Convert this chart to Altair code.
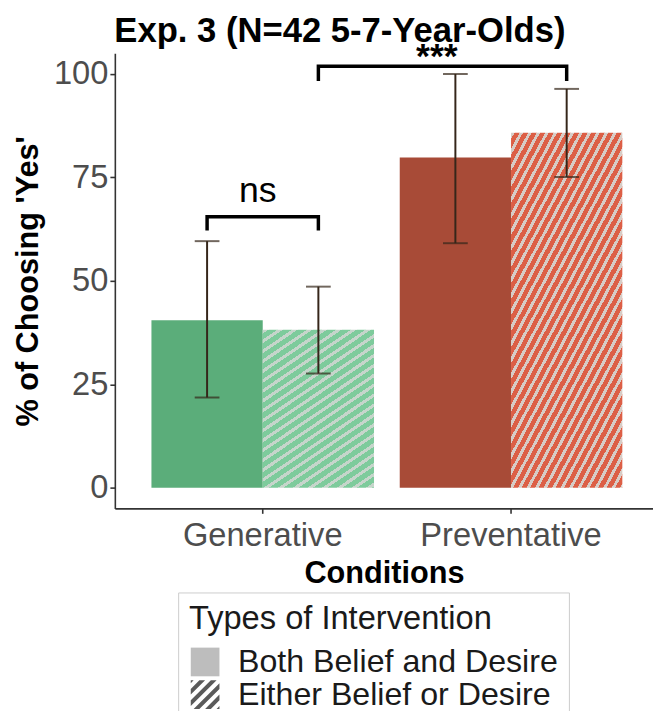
import math
import altair as alt
import pandas as pd

# ---------------- data ----------------
conditions = ["Generative", "Generative", "Preventative", "Preventative"]
types = ["Both Belief and Desire", "Either Belief or Desire",
         "Both Belief and Desire", "Either Belief or Desire"]
pct = [40.5, 38.2, 79.8, 85.8]
ci_low = [21.8, 27.6, 59.1, 75.1]
ci_high = [59.6, 48.6, 100.0, 96.4]

cond_order = ["Generative", "Preventative"]
type_order = ["Both Belief and Desire", "Either Belief or Desire"]
y_ticks = [0, 25, 50, 75, 100]

# significance brackets (4 points each)
br_id = ["ns"] * 4 + ["sig"] * 4
br_cond = ["Generative"] * 4 + ["Generative", "Generative", "Preventative", "Preventative"]
br_type = ["Both Belief and Desire", "Both Belief and Desire",
           "Either Belief or Desire", "Either Belief or Desire"] + ["Either Belief or Desire"] * 4
br_y = [62.2, 65.5, 65.5, 62.2, 98.3, 101.9, 101.9, 98.3]
br_seq = [0, 1, 2, 3, 0, 1, 2, 3]

ns_label = ["ns"]
ns_cond = ["Generative"]
ns_y = [69.1]
star_label = ["***"]
star_cond = ["Preventative"]
star_y = [101.4]

# ---------------- styling ----------------
F = "Liberation Sans"
W, H = 544, 460
Y_DOM = [-5, 105]
GREEN, RED = "#5BAD7A", "#A84B37"
ERR = "#35261a"


def stripe_gradient(w, h, angle_deg, period, frac, base, stripe, phase=0.0):
    th = math.radians(angle_deg)
    a1, a2 = w * math.sin(th), h * math.cos(th)
    t = (a1 + a2) / (a1 * a1 + a2 * a2)
    L = a1 + a2
    stops = []
    s = phase - period
    while s < L:
        s1 = s + frac * period
        s2 = s + period
        for o, c in [(s, stripe), (s1, stripe), (s1, base), (s2, base)]:
            stops.append({"offset": round(min(max(o / L, 0.0), 1.0), 5), "color": c})
        s = s2
    return {"gradient": "linear", "x1": 0, "y1": 0,
            "x2": round(a1 * t, 5), "y2": round(a2 * t, 5), "stops": stops}


def px_height(v):
    return (v - 0) / (Y_DOM[1] - Y_DOM[0]) * H


bar_w = 225 / 2
grad_g = stripe_gradient(bar_w, px_height(pct[1]), 34, 8.3, 0.38, "#7ECB9C", "#C6D5CB")
grad_p = stripe_gradient(bar_w, px_height(pct[3]), 62, 7.6, 0.40, "#DC5F46", "#D7CCC6")


def clip(poly, a, b, c):
    # keep a*x + b*y <= c
    out = []
    n = len(poly)
    for i in range(n):
        p, q = poly[i], poly[(i + 1) % n]
        fp = a * p[0] + b * p[1] - c
        fq = a * q[0] + b * q[1] - c
        if fp <= 0:
            out.append(p)
        if (fp < 0 < fq) or (fq < 0 < fp):
            tt = fp / (fp - fq)
            out.append((p[0] + tt * (q[0] - p[0]), p[1] + tt * (q[1] - p[1])))
    return out


def hatch_path(n=5, frac=0.5):
    period = 4.0 / n
    parts = []
    for k in range(n + 1):
        c_mid = -2 + k * period
        c0, c1 = c_mid - frac * period / 2, c_mid + frac * period / 2
        poly = [(-1, -1), (1, -1), (1, 1), (-1, 1)]
        poly = clip(poly, 1, 1, c1)
        poly = clip(poly, -1, -1, -c0)
        if len(poly) >= 3:
            parts.append("M" + "L".join(f"{x:.3f},{y:.3f}" for x, y in poly) + "Z")
    return "".join(parts)


HATCH = hatch_path(5, 0.5)

df = pd.DataFrame({"Conditions": conditions, "Type": types, "Pct": pct,
                   "lo": ci_low, "hi": ci_high})
br = pd.DataFrame({"id": br_id, "Conditions": br_cond, "Type": br_type,
                   "y": br_y, "seq": br_seq})
ns_df = pd.DataFrame({"label": ns_label, "Conditions": ns_cond, "y": ns_y})
star_df = pd.DataFrame({"label": star_label, "Conditions": star_cond, "y": star_y})

YT = "% of Choosing 'Yes'"
xscale = alt.Scale(domain=cond_order, paddingInner=0.1036, paddingOuter=0.1355, align=0.544)
yscale = alt.Scale(domain=Y_DOM, nice=False, zero=False)


def X():
    return alt.X("Conditions:N", scale=xscale, title="Conditions",
                 axis=alt.Axis(labelAngle=0, labelLimit=400))


def XO():
    return alt.XOffset("Type:N", scale=alt.Scale(domain=type_order))


def Y(field):
    return alt.Y(field, scale=yscale, title=YT, axis=alt.Axis(values=y_ticks))


base = alt.Chart(df)

solid = base.transform_filter(alt.datum.Type == type_order[0]).mark_bar().encode(
    x=X(), xOffset=XO(), y=Y("Pct:Q"),
    color=alt.Color("Conditions:N", scale=alt.Scale(domain=cond_order, range=[GREEN, RED]),
                    legend=None),
)

hatched = base.transform_filter(alt.datum.Type == type_order[1]).mark_bar().encode(
    x=X(), xOffset=XO(), y=Y("Pct:Q"),
    fill=alt.condition(alt.datum.Conditions == "Generative", alt.value(grad_g), alt.value(grad_p)),
)

LEG = dict(title="Types of Intervention", orient="none", legendX=64, legendY=545,
           symbolOpacity=1)
legend_pts = base.mark_point(filled=True, opacity=0).encode(
    x=X(), y=Y("Pct:Q"),
    fill=alt.Fill("Type:N", scale=alt.Scale(domain=type_order, range=["#BDBDBD", "#5A5A5A"]),
                  legend=alt.Legend(**LEG)),
    shape=alt.Shape("Type:N", scale=alt.Scale(domain=type_order, range=["square", HATCH]),
                    legend=alt.Legend(**LEG)),
)

err = base.mark_rule(color=ERR, strokeWidth=2).encode(
    x=X(), xOffset=XO(), y=Y("lo:Q"), y2="hi:Q")
cap_lo = base.mark_tick(color=ERR, size=25, thickness=2, orient="horizontal").encode(
    x=X(), xOffset=XO(), y=Y("lo:Q"))
cap_hi = base.mark_tick(color=ERR, size=25, thickness=2, orient="horizontal").encode(
    x=X(), xOffset=XO(), y=Y("hi:Q"))

brackets = alt.Chart(br).mark_line(color="black", strokeWidth=3.5, strokeJoin="miter",
                                   strokeCap="butt").encode(
    x=X(), xOffset=XO(), y=Y("y:Q"), detail="id:N", order="seq:Q")

ns_text = alt.Chart(ns_df).mark_text(font=F, fontSize=36, color="black",
                                     baseline="alphabetic", dx=-5).encode(
    x=X(), y=Y("y:Q"), text="label:N")
star_text = alt.Chart(star_df).mark_text(font=F, fontSize=36, fontWeight="bold", color="black",
                                         baseline="alphabetic", dx=-75).encode(
    x=X(), y=Y("y:Q"), text="label:N")

chart = alt.layer(
    solid, hatched, legend_pts, err, cap_lo, cap_hi, brackets, ns_text, star_text
).properties(
    width=W, height=H,
    autosize=alt.AutoSizeParams(type="none"),
    padding={"left": 108, "top": 42, "right": 0, "bottom": 201},
    title=alt.TitleParams("Exp. 3 (N=42 5-7-Year-Olds)", font=F, fontSize=35,
                          fontWeight="bold", color="black", anchor="middle",
                          frame="bounds", offset=-9, dx=7),
).configure_view(stroke=None).configure_axis(
    labelFont=F, titleFont=F, domainColor="#333333", domainWidth=1.6,
    tickColor="#333333", tickWidth=1.6, tickSize=5, grid=False,
    labelColor="#4D4D4D", labelFontSize=33, titleFontSize=31,
    titleFontWeight="bold", titleColor="black",
).configure_axisY(labelPadding=2, titlePadding=9).configure_axisX(
    labelPadding=7, titlePadding=6
).configure_legend(
    titleFont=F, labelFont=F, titleFontSize=33, labelFontSize=32.5,
    titleFontWeight="normal", titleColor="#1a1a1a", labelColor="#1a1a1a",
    symbolSize=841, symbolStrokeWidth=0, labelOffset=17, rowPadding=0,
    padding=11, strokeColor="#CCCCCC", fillColor="white", titlePadding=10,
    labelLimit=600, titleLimit=600,
)

chart.save("out.html", embed_options={"renderer": "svg", "actions": False})
